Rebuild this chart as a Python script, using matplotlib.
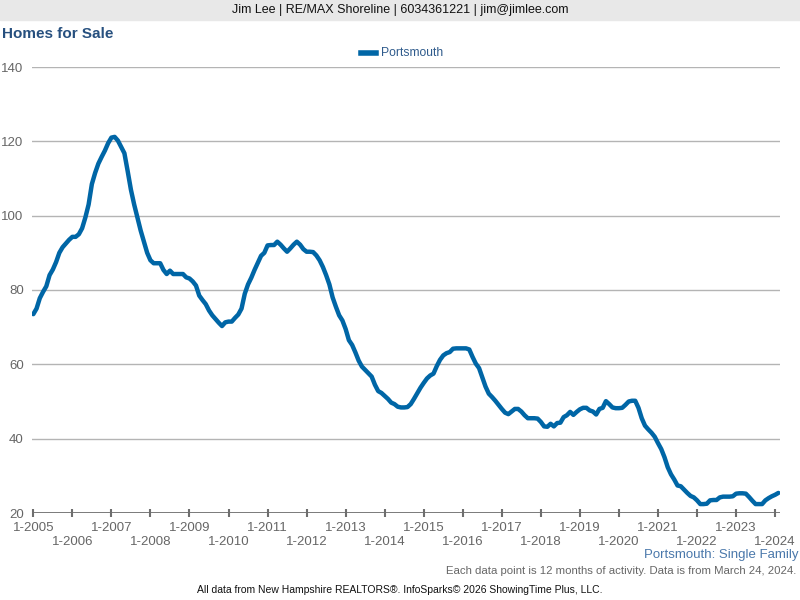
import matplotlib.pyplot as plt

plt.rcParams['font.family'] = ['Liberation Sans', 'DejaVu Sans']

# monthly values, 1-2005 .. 2-2024 (12-month rolling, homes for sale)
values_2005_2009 = [
    73.5, 75, 77.8, 79.5, 81, 84, 85.5, 87.5, 90, 91.5, 92.5, 93.5,
    94.3, 94.3, 95, 96.6, 99.5, 103, 108.5, 111.5, 114, 115.8, 117.5, 119.5,
    121, 121.2, 120.2, 118.5, 116.8, 112, 107, 103, 99.5, 96, 93, 90,
    88, 87.2, 87.2, 87.2, 85.4, 84.3, 85.2, 84.3, 84.3, 84.3, 84.3, 83.4,
    83.1, 82.3, 81.2, 78.5, 77.3, 76.2, 74.5, 73.2, 72.2, 71.2, 70.3, 71.3,
]
values_2010_2014 = [
    71.5, 71.5, 72.5, 73.4, 75, 79, 81.5, 83.3, 85.4, 87.3, 89.2, 90,
    92, 92.1, 92.1, 93, 92.2, 91.2, 90.3, 91.2, 92.2, 93, 92.2, 91,
    90.3, 90.3, 90.2, 89.3, 88, 86.2, 84, 81.5, 78, 75.5, 73.2, 71.8,
    69.5, 66.5, 65.2, 63.2, 61, 59.4, 58.5, 57.6, 56.7, 54.5, 52.8, 52.3,
    51.5, 50.7, 49.7, 49.3, 48.6, 48.4, 48.4, 48.5, 49.3, 50.7, 52.2, 53.7,
]
values_2015_2019 = [
    55, 56.2, 57, 57.5, 59.5, 61.2, 62.4, 63, 63.3, 64.2, 64.3, 64.3,
    64.3, 64.3, 64, 62, 60.2, 59, 56.5, 54, 52.1, 51.2, 50.2, 49.1,
    48, 47, 46.6, 47.3, 48, 48, 47.3, 46.3, 45.5, 45.5, 45.5, 45.4,
    44.5, 43.3, 43.2, 44, 43.3, 44.2, 44.3, 45.8, 46.3, 47.2, 46.4, 47.2,
    47.9, 48.3, 48.3, 47.6, 47.3, 46.5, 48, 48.3, 50.1, 49.3, 48.4, 48.2,
]
values_2020_2024 = [
    48.2, 48.3, 49.1, 50, 50.2, 50.2, 48.3, 45.5, 43.5, 42.5, 41.6, 40.5,
    38.8, 37.2, 35, 32.3, 30.4, 29, 27.4, 27.2, 26.3, 25.4, 24.6, 24.2,
    23.4, 22.4, 22.4, 22.5, 23.4, 23.5, 23.5, 24.2, 24.4, 24.4, 24.4, 24.5,
    25.2, 25.3, 25.3, 25.2, 24.3, 23.3, 22.4, 22.4, 22.4, 23.4, 24, 24.5,
    24.9, 25.4,
]
values = values_2005_2009 + values_2010_2014 + values_2015_2019 + values_2020_2024
months = list(range(len(values)))

years = list(range(2005, 2025))
year_labels = [f'1-{y}' for y in years]
y_ticks = [20, 40, 60, 80, 100, 120, 140]

line_color = '#0066a6'

fig = plt.figure(figsize=(8, 6), dpi=100)
ax = fig.add_axes([32 / 800, 1 - 513 / 600, (780 - 32) / 800, (513 - 67) / 600])

ax.plot(months, values, color=line_color, linewidth=3.2, solid_capstyle='round',
        solid_joinstyle='round', zorder=3)

ax.set_xlim(-0.4, 229.5)
ax.set_ylim(20, 140)
for y in y_ticks[1:]:
    ax.axhline(y, color='#b4b4b4', linewidth=1, zorder=1)
ax.axhline(20, color='#6e6e6e', linewidth=2, zorder=2)

for s in ax.spines.values():
    s.set_visible(False)

ax.set_yticks(y_ticks)
ax.set_yticklabels([str(v) for v in y_ticks], color='#666666', fontsize=9.5)
ax.tick_params(axis='y', length=0, pad=6)

ax.set_xticks([12 * i for i in range(len(years))])
ax.set_xticklabels([])
ax.tick_params(axis='x', direction='inout', length=6, width=1.5, color='#6e6e6e')
for i, lab in enumerate(year_labels):
    off = -15 if i % 2 == 0 else -29
    ax.annotate(lab, xy=(12 * i, 20), xycoords='data', xytext=(0, off),
                textcoords='offset pixels', ha='center', va='center',
                color='#666666', fontsize=9.5)

# header band
fig.patches.append(plt.Rectangle((0, 1 - 20 / 600), 1, 20 / 600, transform=fig.transFigure,
                                 color='#e8e8e8', zorder=0))
fig.text(0.5, 1 - 10 / 600, 'Jim Lee | RE/MAX Shoreline | 6034361221 | jim@jimlee.com',
         ha='center', va='center', fontsize=9, color='#111111')
fig.text(2 / 800, 1 - 34 / 600, 'Homes for Sale', ha='left', va='center',
         fontsize=11, fontweight='bold', color='#27507f')

# legend
fig.lines.append(plt.Line2D([361 / 800, 376 / 800], [1 - 53 / 600, 1 - 53 / 600],
                            transform=fig.transFigure, color=line_color, linewidth=4))
fig.text(381 / 800, 1 - 53 / 600, 'Portsmouth', ha='left', va='center',
         fontsize=8.7, color='#2f5b8c')

fig.text(798 / 800, 1 - 555 / 600, 'Portsmouth: Single Family', ha='right', va='center',
         fontsize=9.5, color='#4a78ab')
fig.text(796 / 800, 1 - 571 / 600,
         'Each data point is 12 months of activity. Data is from March 24, 2024.',
         ha='right', va='center', fontsize=8.2, color='#666666')
fig.text(0.5, 1 - 590 / 600,
         'All data from New Hampshire REALTORS®. InfoSparks© 2026 ShowingTime Plus, LLC.',
         ha='center', va='center', fontsize=7.5, color='#111111')

fig.savefig('out.png', dpi=100)
